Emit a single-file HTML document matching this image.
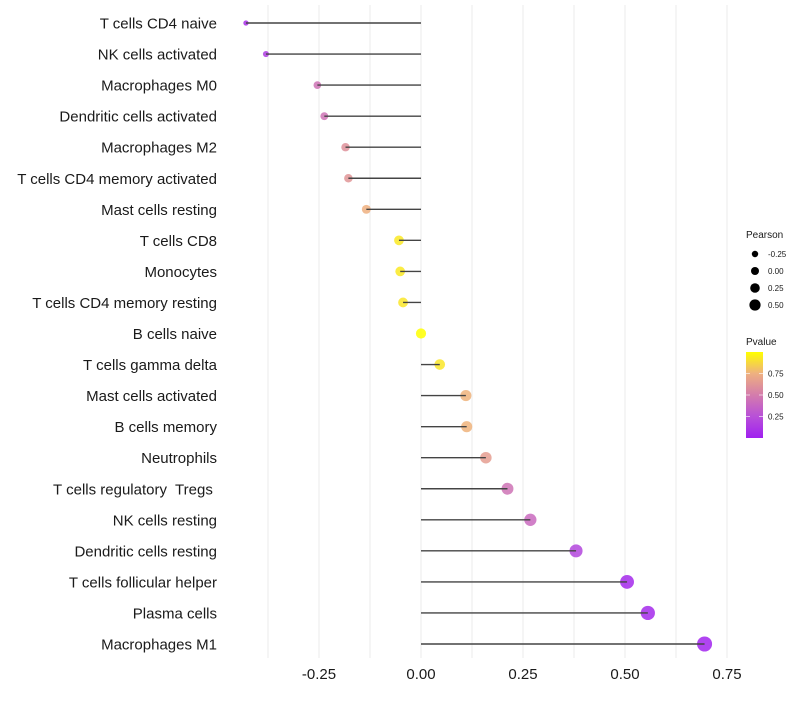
<!DOCTYPE html>
<html><head><meta charset="utf-8"><style>
body{margin:0;background:#fff;font-family:"Liberation Sans",sans-serif}
</style></head><body>
<svg id="c" width="800" height="700" xmlns="http://www.w3.org/2000/svg" font-family="Liberation Sans, sans-serif"></svg>
<script>
const categories=["T cells CD4 naive","NK cells activated","Macrophages M0","Dendritic cells activated","Macrophages M2","T cells CD4 memory activated","Mast cells resting","T cells CD8","Monocytes","T cells CD4 memory resting","B cells naive","T cells gamma delta","Mast cells activated","B cells memory","Neutrophils","T cells regulatory  Tregs ","NK cells resting","Dendritic cells resting","T cells follicular helper","Plasma cells","Macrophages M1"];
const pearson=[-0.429,-0.380,-0.254,-0.237,-0.185,-0.178,-0.134,-0.054,-0.051,-0.044,0.0,0.046,0.110,0.112,0.159,0.212,0.268,0.380,0.505,0.556,0.695];
const pvalue=[0.08,0.15,0.45,0.45,0.6,0.62,0.75,0.93,0.93,0.92,1.0,0.92,0.76,0.76,0.66,0.45,0.4,0.2,0.05,0.05,0.02];
const xTicks=[-0.25,0,0.25,0.5,0.75];
const xTickLabels=["-0.25","0.00","0.25","0.50","0.75"];
const gridVals=[-0.375,-0.25,-0.125,0,0.125,0.25,0.375,0.5,0.625,0.75];
const sizeLegend=[-0.25,0,0.25,0.5];
const sizeLegendLabels=["-0.25","0.00","0.25","0.50"];
const pLegend=[0.25,0.5,0.75];
const pLegendLabels=["0.25","0.50","0.75"];

const svg=document.getElementById('c');const NS="http://www.w3.org/2000/svg";
function mk(t,a,p){const e=document.createElementNS(NS,t);for(const k in a)e.setAttribute(k,a[k]);(p||svg).appendChild(e);return e;}
const x=v=>421+v*408;
const y=i=>23+i*31.05;
const r=v=>Math.sqrt(Math.max(4,26+44*v));
const stops=[[0,[160,32,240]],[0.25,[184,80,216]],[0.5,[212,124,172]],[0.75,[238,176,128]],[1,[255,255,0]]];
function col(p){for(let i=1;i<stops.length;i++){if(p<=stops[i][0]){const a=stops[i-1],b=stops[i],t=(p-a[0])/(b[0]-a[0]);const c=a[1].map((v,k)=>Math.round(v+(b[1][k]-v)*t));return `rgb(${c})`;}}return 'rgb(255,255,0)';}
gridVals.forEach(g=>{const l=mk('line',{x1:x(g),x2:x(g),y1:5,y2:658,stroke:'#ebebeb','stroke-width':1});

});
xTicks.forEach((t,i)=>{const e=mk('text',{x:x(t),y:679,'text-anchor':'middle','font-size':15,fill:'#1a1a1a'});e.textContent=xTickLabels[i];

});
categories.forEach((c,i)=>{
 const t=mk('text',{x:217,y:y(i)+5.5,'text-anchor':'end','font-size':15,fill:'#1a1a1a',style:'white-space:pre'});t.textContent=c;
 
 
 const p=mk('circle',{cx:x(pearson[i]),cy:y(i),r:r(pearson[i]),fill:col(pvalue[i]),'fill-opacity':0.85});
 
 
 const s=mk('line',{x1:x(0),x2:x(pearson[i]),y1:y(i),y2:y(i),stroke:'#444','stroke-width':1.4});
 
 
});
const lt=mk('text',{x:746,y:238,'font-size':10,fill:'#1a1a1a'});lt.textContent='Pearson';


sizeLegend.forEach((v,i)=>{const cy=254+i*17;
 const c=mk('circle',{cx:755,cy:cy,r:3.2+i*0.8,fill:'#000'});
 
 
 const t=mk('text',{x:768,y:cy+3,'font-size':8,fill:'#1a1a1a'});t.textContent=sizeLegendLabels[i];
 
 });
const pt=mk('text',{x:746,y:345,'font-size':10,fill:'#1a1a1a'});pt.textContent='Pvalue';


const defs=mk('defs',{});const lg=mk('linearGradient',{id:'g',x1:0,y1:1,x2:0,y2:0},defs);
stops.forEach(s=>mk('stop',{offset:s[0],'stop-color':`rgb(${s[1]})`},lg));
const bar=mk('rect',{x:746,y:352,width:17,height:86,fill:'url(#g)'});


pLegend.forEach((v,i)=>{const yy=438-v*86;
 mk('line',{x1:746,x2:750,y1:yy,y2:yy,stroke:'#fff','stroke-opacity':0.6});mk('line',{x1:759,x2:763,y1:yy,y2:yy,stroke:'#fff','stroke-opacity':0.6});
 const t=mk('text',{x:768,y:yy+3,'font-size':8,fill:'#1a1a1a'});t.textContent=pLegendLabels[i];
 
 });
</script>
</body></html>
